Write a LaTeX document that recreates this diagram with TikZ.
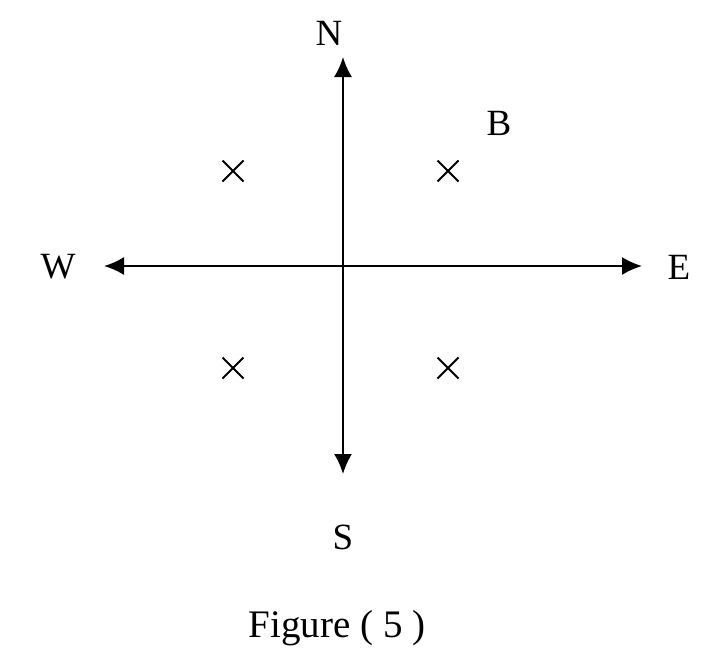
\documentclass[tikz,border=0pt]{standalone}
\usepackage{fontspec}
\setmainfont{Liberation Serif}
\usetikzlibrary{arrows.meta}
\begin{document}
\begin{tikzpicture}[x=1pt,y=-1pt,
  axis/.style={line width=2pt,-{Latex[length=20pt,width=18pt]}},
  lbl/.style={font=\fontsize{37}{40}\selectfont,inner sep=0pt},
  crossmark/.style={line width=1.8pt}]
\useasboundingbox (0,0) rectangle (717,664);
\coordinate (O) at (343,266);
\coordinate (Ntip) at (343,57);
\coordinate (Stip) at (343,474);
\coordinate (Wtip) at (104,266);
\coordinate (Etip) at (642,266);
\draw[axis] (O) -- (Ntip);
\draw[axis] (O) -- (Stip);
\draw[axis] (O) -- (Wtip);
\draw[axis] (O) -- (Etip);
\node[lbl] (N) at (329,33) {N};
\node[lbl] (S) at (343,537) {S};
\node[lbl] (W) at (58,267) {W};
\node[lbl] (E) at (679,267) {E};
\node[lbl] (B) at (499,123) {B};
\foreach \cx/\cy [count=\i] in {233/171, 448/171, 233/368, 448/368}{
  \coordinate (c\i) at (\cx,\cy);
  \draw[crossmark] ([shift={(-10.5,-10.5)}]c\i) -- ([shift={(10.5,10.5)}]c\i);
  \draw[crossmark] ([shift={(-10.5,10.5)}]c\i) -- ([shift={(10.5,-10.5)}]c\i);
}
\node[lbl,font=\fontsize{39}{42}\selectfont,anchor=base] (cap) at (337,637) {Figure ( 5 )};
\end{tikzpicture}
\end{document}
